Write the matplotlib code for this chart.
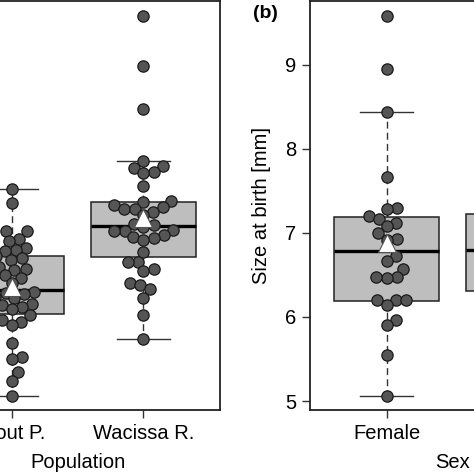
import numpy as np
import matplotlib.pyplot as plt

plt.rcParams['font.family'] = ['Liberation Sans', 'DejaVu Sans']

# panel (a): size at birth by population
pop_names = ["Trout P.", "Wacissa R."]
trout = [7.52, 7.36, 7.02, 7.02, 6.93, 6.90, 6.82, 6.80, 6.78, 6.72, 6.70, 6.68,
         6.61, 6.60, 6.57, 6.56, 6.50, 6.46, 6.40, 6.30, 6.30, 6.29, 6.27, 6.24,
         6.22, 6.16, 6.14, 6.12, 6.10, 6.02, 5.96, 5.96, 5.94, 5.90, 5.69, 5.52,
         5.50, 5.34, 5.24, 5.06]
wacissa = [9.58, 8.99, 8.48, 7.86, 7.80, 7.77, 7.73, 7.71, 7.56, 7.38, 7.37, 7.33,
           7.31, 7.29, 7.28, 7.25, 7.21, 7.11, 7.10, 7.07, 7.03, 7.02, 7.02, 6.98,
           6.95, 6.94, 6.92, 6.77, 6.66, 6.66, 6.57, 6.55, 6.40, 6.38, 6.33, 6.23,
           6.02, 5.74]
pop_whislo = [5.06, 5.74]
pop_q1 = [6.04, 6.71]
pop_med = [6.32, 7.08]
pop_q3 = [6.73, 7.37]
pop_whishi = [7.52, 7.86]
pop_mean = [6.36, 7.18]

# panel (b): size at birth by sex
sex_names = ["Female", "Male"]
female = [9.58, 8.95, 8.44, 7.66, 7.30, 7.28, 7.20, 7.17, 7.12, 7.08, 7.00, 6.93,
          6.92, 6.73, 6.67, 6.57, 6.47, 6.46, 6.47, 6.20, 6.20, 6.20, 6.14, 5.96,
          5.90, 5.55, 5.06]
male = [7.90, 7.60, 7.40, 7.30, 7.25, 7.20, 7.10, 7.00, 6.95, 6.90, 6.85, 6.80,
        6.80, 6.75, 6.70, 6.60, 6.50, 6.40, 6.35, 6.30, 6.25, 6.10, 5.90, 5.70,
        5.40, 5.24]
sex_whislo = [5.06, 5.24]
sex_q1 = [6.19, 6.31]
sex_med = [6.79, 6.80]
sex_q3 = [7.19, 7.23]
sex_whishi = [8.44, 7.90]
sex_mean = [6.88, 6.85]

YLIM = (4.893, 9.76)
XLIM = (0.42, 2.58)
PX_X = 132.0   # pixels per x unit
PX_Y = 84.0    # pixels per y unit


def swarm(values, d=10.5):
    y = np.asarray(values) * PX_Y
    order = np.argsort(y, kind='stable')
    xs = np.zeros(len(y))
    placed = []
    for i in order:
        cands = [0.0]
        for j in placed:
            dy = y[i] - y[j]
            if abs(dy) < d:
                dx = np.sqrt(d * d - dy * dy)
                cands += [xs[j] + dx, xs[j] - dx]
        cands.sort(key=lambda c: (abs(c), -c))
        for c in cands:
            if all((c - xs[j]) ** 2 + (y[i] - y[j]) ** 2 >= d * d - 1e-6 for j in placed):
                xs[i] = c
                break
        placed.append(i)
    return xs / PX_X


def panel(ax, names, groups, whislo, q1, med, q3, whishi, means, xlabel):
    stats = []
    for k in range(len(names)):
        stats.append(dict(whislo=whislo[k], q1=q1[k], med=med[k], q3=q3[k],
                          whishi=whishi[k], fliers=[]))
    ax.bxp(stats, positions=[1, 2], widths=0.8, patch_artist=True, showfliers=False,
           boxprops=dict(facecolor='#bebebe', edgecolor='#222222', linewidth=1.1),
           medianprops=dict(color='black', linewidth=2.4),
           whiskerprops=dict(color='#333333', linewidth=1.0, linestyle=(0, (5, 3))),
           capprops=dict(color='#333333', linewidth=1.0), capwidths=0.4, zorder=2)
    for k, vals in enumerate(groups):
        off = swarm(vals)
        ax.scatter(np.full(len(vals), k + 1) + off, vals, s=66, facecolor='#555555',
                   edgecolor='#1a1a1a', linewidth=0.9, zorder=3, clip_on=False)
    ax.plot([1, 2], means, linestyle='none', marker='^', markersize=12.5,
            markerfacecolor='white', markeredgecolor='#555555', markeredgewidth=0.8, zorder=4)
    ax.set_xlim(XLIM)
    ax.set_ylim(YLIM)
    ax.set_xticks([1, 2])
    ax.set_xticklabels(names)
    ax.set_yticks([5, 6, 7, 8, 9])
    ax.tick_params(length=6, width=1, labelsize=14.5, pad=4, color='#333333')
    for s in ax.spines.values():
        s.set_linewidth(1.3)
        s.set_color('#222222')
    ax.set_xlabel(xlabel, fontsize=14.5, labelpad=7)


fig = plt.figure(figsize=(4.74, 4.74), dpi=100)
W = 474.0
ax1 = fig.add_axes([-65 / W, 64 / W, 285 / W, 409 / W])
ax2 = fig.add_axes([310 / W, 64 / W, 285 / W, 409 / W])

panel(ax1, pop_names, [trout, wacissa], pop_whislo, pop_q1, pop_med, pop_q3,
      pop_whishi, pop_mean, "Population")
panel(ax2, sex_names, [female, male], sex_whislo, sex_q1, sex_med, sex_q3,
      sex_whishi, sex_mean, "Sex")
# left panel y axis lies outside the cropped figure
ax1.tick_params(axis='y', labelleft=False)
ax2.set_ylabel("Size at birth [mm]", fontsize=14.5, labelpad=10)
fig.text(265 / W, 1 - 13 / W, "(b)", fontsize=14, fontweight='bold', ha='center', va='center')

plt.savefig("out.png", dpi=100)
